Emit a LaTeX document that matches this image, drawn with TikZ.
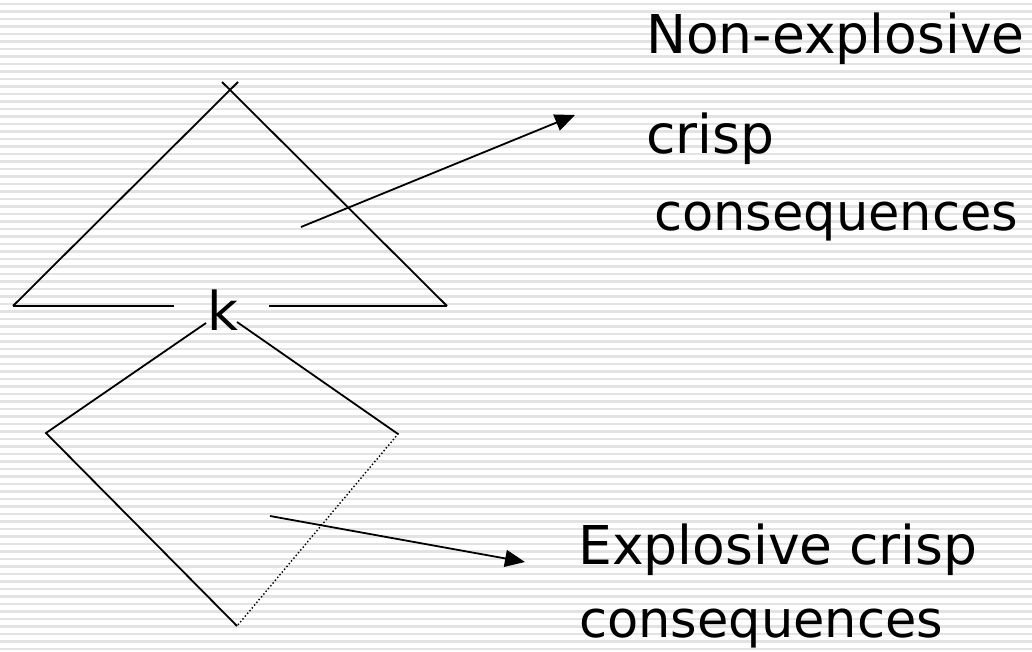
\documentclass[tikz,border=0pt]{standalone}
\usepackage{fontspec}
\setmainfont{DejaVu Sans}
\usetikzlibrary{arrows.meta}
\begin{document}
\begin{tikzpicture}[x=1pt,y=-1pt,
  lab/.style={anchor=base west, inner sep=0pt, font=\fontsize{53.5}{60}\selectfont},
  labn/.style={anchor=base west, inner sep=0pt, font=\fontsize{51}{60}\selectfont},
  edge/.style={draw=black, line width=1.8pt},
  dotedge/.style={draw=black, line width=2pt, line cap=round, dash pattern=on 0pt off 3.6pt},
  arr/.style={edge,-{Triangle[length=20pt,width=17pt]}},
  stripe/.style={draw=black!11, line width=2.2pt}]
\fill[white] (0,0) rectangle (1032,652);
\useasboundingbox (0,0) rectangle (1032,652);
\foreach \i in {0,...,86} \draw[stripe] (0,{4+7.5*\i}) -- (1032,{4+7.5*\i});
% triangle
\coordinate (tl) at (222,82);
\coordinate (tr) at (238,82);
\coordinate (bl) at (13,306);
\coordinate (bm1) at (174,306);
\coordinate (bm2) at (269,306);
\coordinate (br) at (447,306);
\draw[edge] (tl) -- (br);
\draw[edge] (tr) -- (bl);
\draw[edge] (bl) -- (bm1);
\draw[edge] (bm2) -- (br);
% k
\node[lab] (k) at (207,330) {k};
% diamond
\coordinate (dtl) at (206,323);
\coordinate (dtr) at (237,322);
\coordinate (dl) at (46,433);
\coordinate (dr) at (398,434);
\coordinate (db) at (237,626);
\draw[edge] (dtl) -- (dl) -- (db);
\draw[edge] (dtr) -- (dr);
\draw[dotedge] (dr) -- (db);
% labels
\node[lab] (ne) at (646,54) {Non-explosive};
\node[lab] (cr) at (646,154) {crisp};
\node[labn] (co1) at (654,230) {consequences};
\node[lab] (ex) at (578,564) {Explosive crisp};
\node[labn] (co2) at (579,637) {consequences};
% arrows
\coordinate (a1s) at (301,227);
\coordinate (a1e) at (575,115);
\coordinate (a2s) at (270,516);
\coordinate (a2e) at (525,562);
\draw[arr] (a1s) -- (a1e);
\draw[arr] (a2s) -- (a2e);
\end{tikzpicture}
\end{document}
